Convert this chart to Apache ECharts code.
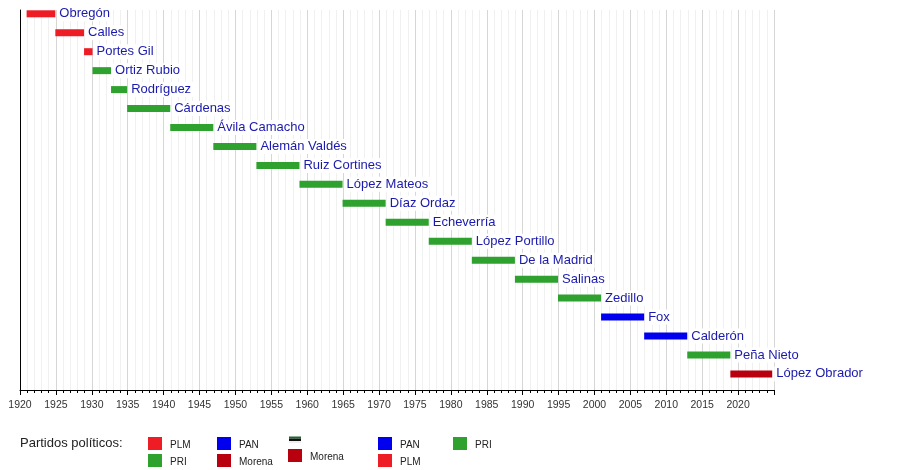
<!DOCTYPE html>
<html>
<head>
<meta charset="utf-8">
<script src="https://cdn.jsdelivr.net/npm/echarts@6/dist/echarts.min.js"></script>
<style>html,body{margin:0;padding:0;background:#fff}#c{width:900px;height:470px}</style>
</head>
<body>
<div id="c"></div>
<script>
const presidents = ['Obregón','Calles','Portes Gil','Ortiz Rubio','Rodríguez','Cárdenas','Ávila Camacho','Alemán Valdés','Ruiz Cortines','López Mateos','Díaz Ordaz','Echeverría','López Portillo','De la Madrid','Salinas','Zedillo','Fox','Calderón','Peña Nieto','López Obrador'];
const termStart = [1920.92,1924.92,1928.92,1930.10,1932.68,1934.92,1940.92,1946.92,1952.92,1958.92,1964.92,1970.92,1976.92,1982.92,1988.92,1994.92,2000.92,2006.92,2012.92,2018.92];
const termEnd   = [1924.92,1928.92,1930.10,1932.68,1934.92,1940.92,1946.92,1952.92,1958.92,1964.92,1970.92,1976.92,1982.92,1988.92,1994.92,2000.92,2006.92,2012.92,2018.92,2024.75];
const parties   = ['PLM','PLM','PLM','PRI','PRI','PRI','PRI','PRI','PRI','PRI','PRI','PRI','PRI','PRI','PRI','PRI','PAN','PAN','PRI','Morena'];
const tickYears = [1920,1925,1930,1935,1940,1945,1950,1955,1960,1965,1970,1975,1980,1985,1990,1995,2000,2005,2010,2015,2020];
const legendTitle = 'Partidos políticos:';
const legendNames = ['PLM','PRI','PAN','Morena','Morena','PAN','PLM','PRI'];

const partyColors = {PLM:'#ee1c25', PRI:'#2ea12e', PAN:'#0000ee', Morena:'#b8000e'};
const FONT = '"Liberation Sans", Arial, Helvetica, sans-serif';

const data = presidents.map((n,i)=>[i, termStart[i], termEnd[i], n, parties[i]]);

// legend layout (positions only)
const legPos = [[148,437],[148,454],[217,437],[217,454],[288,449],[378,437],[378,454],[453,437]];
const graphics = [{type:'text', x:20, y:443, style:{text:legendTitle, fontSize:13, fill:'#222', fontFamily:FONT, verticalAlign:'middle'}}];
legendNames.forEach((nm,k)=>{
  const [x,y] = legPos[k];
  graphics.push({type:'rect', shape:{x:x,y:y,width:14,height:13}, style:{fill:partyColors[nm]}});
  graphics.push({type:'text', x:x+22, y:y+8, style:{text:nm, fontSize:10, fill:'#222', fontFamily:FONT, verticalAlign:'middle'}});
});
// small flag-like mark above the second Morena entry
graphics.push({type:'rect', shape:{x:289,y:436.5,width:12,height:2}, style:{fill:'#1a6b2a'}});
graphics.push({type:'rect', shape:{x:289,y:438.5,width:12,height:2.5}, style:{fill:'#111'}});
graphics.push({type:'rect', shape:{x:289,y:441,width:12,height:2}, style:{fill:'#eeeeee'}});

const chart = echarts.init(document.getElementById('c'), null, {renderer:'canvas'});
chart.setOption({
  animation:false,
  backgroundColor:'#fff',
  grid:{left:20, right:126, top:10, bottom:80, containLabel:false},
  xAxis:{
    type:'value', min:1920, max:2025, interval:5, position:'bottom',
    axisLine:{show:true, onZero:false, lineStyle:{color:'#000', width:1}},
    axisTick:{show:true, length:5, lineStyle:{color:'#000'}},
    minorTick:{show:true, splitNumber:5, length:3, lineStyle:{color:'#000'}},
    splitLine:{show:true, lineStyle:{color:'#d6d6d6', width:1}},
    minorSplitLine:{show:true, lineStyle:{color:'#f0f0f0', width:1}},
    axisLabel:{fontSize:10.5, color:'#333', fontFamily:FONT, margin:10,
      formatter:v => tickYears.indexOf(v) >= 0 ? String(v) : ''}
  },
  yAxis:{
    type:'value', inverse:true, min:-0.2, max:19.85,
    axisLine:{show:true, onZero:false, lineStyle:{color:'#000', width:1}},
    axisTick:{show:false}, axisLabel:{show:false}, splitLine:{show:false}
  },
  series:[{
    type:'custom',
    encode:{x:[1,2], y:0},
    clip:false,
    data:data,
    renderItem:function(params, api){
      const i = api.value(0);
      const p0 = api.coord([api.value(1), i]);
      const p1 = api.coord([api.value(2), i]);
      const party = parties[i];
      return {
        type:'rect',
        shape:{x:p0[0], y:p0[1]-3.5, width:p1[0]-p0[0], height:7},
        style:{fill:partyColors[party]},
        textContent:{
          style:{text:presidents[i], fill:'#1a1aad', fontSize:13, fontFamily:FONT,
                 backgroundColor:'#fff', padding:[1,2]}
        },
        textConfig:{position:'right', distance:2}
      };
    }
  }],
  graphic:graphics
});
</script>
</body>
</html>
